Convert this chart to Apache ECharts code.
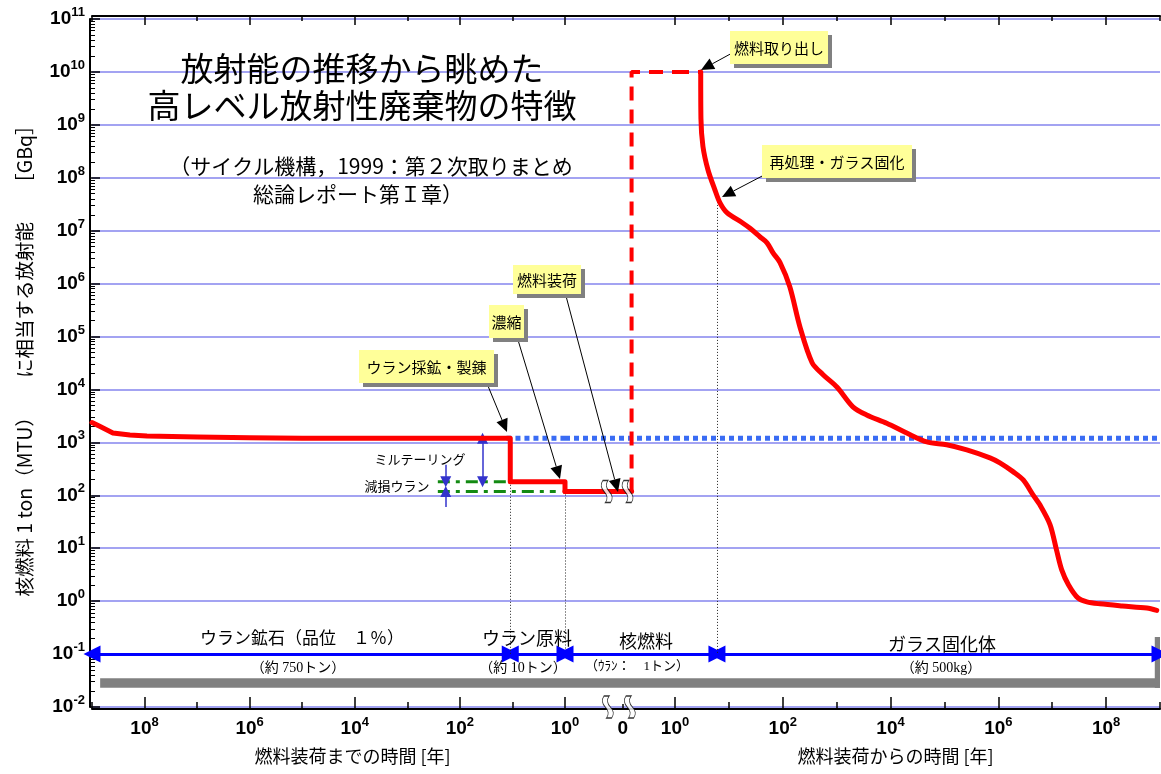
<!DOCTYPE html>
<html><head><meta charset="utf-8">
<script src="https://cdn.jsdelivr.net/npm/echarts@6/dist/echarts.min.js"></script>
<style>html,body{margin:0;padding:0;background:#fff}#c{width:1161px;height:774px}</style>
</head><body><div id="c"></div>
<script>
// ===== DATA =====
// Left panel: years before fuel loading (ore -> refining -> enrichment)
const beforeYears    = [1e9, 7e8, 4e8, 1.9e8, 9e7, 1e7, 1e6, 1e5, 11, 11, 1, 1];
const beforeActivity = [2370, 1990, 1510, 1380, 1320, 1260, 1220, 1200, 1200, 180, 180, 118];
// Middle panel (time 0 = fuel loading), arbitrary position scale
const middleRange = [-1, 0.9];
const fuelPos = [-1, 0.15];
const fuelActivity = [118, 118];
const irradiationPos = [0.15, 0.15, 0.9];
const irradiationActivity = [118, 1e10, 1e10];
const breakPos = [-0.28, 0.08, -0.26, 0.12];
const breakLevel = [118, 118, 0.01, 0.01];
// Right panel: years after fuel loading
const reactorYears = [1, 3];
const reactorActivity = [1e10, 1e10];
const afterYears = [3, 3.03, 3.3, 4.1, 5.5, 6.8, 9.2, 18, 25, 38, 51, 66, 89, 135, 209, 350, 560, 1020, 2000, 3600, 8500,
  2e4, 4.7e4, 1.1e5, 2.6e5, 7e5, 1.07e6, 1.9e6, 2.9e6, 4.4e6, 5.9e6, 9.1e6, 1.2e7, 1.5e7, 2e7, 3e7, 4.4e7, 7.7e7, 2e8, 5.7e8, 8.7e8];
const afterActivity = [1e10, 1.3e9, 3.9e8, 1.4e8, 5.9e7, 3.4e7, 2.2e7, 1.4e7, 1.1e7, 7.6e6, 5.9e6, 3.8e6, 2.5e6, 8.7e5, 1.5e5, 3.2e4, 1.9e4, 1.1e4, 4.7e3, 3.3e3, 2.3e3,
  1.5e3, 1.02e3, 900, 720, 510, 410, 277, 195, 102, 66, 28, 9.3, 3.9, 2.05, 1.15, 0.97, 0.89, 0.81, 0.74, 0.67];
// Reference level of natural uranium ore (blue dotted)
const oreLevel = 1200;
const oreLevelLeftYears = [13, 1];
const oreLevelRightYears = [1, 1e9];
// Mill tailings / depleted uranium (green dash-dot)
const tailingsYears = [263, 11];
const tailingsLevel = 180;
const depletedYears = [263, 1.5];
const depletedLevel = 118;
// Phase boundaries (years)
const phaseOreStart = 1e9, phaseRefineEnd = 11, phaseLoad = 1, phaseReprocess = 6, phaseEnd = 1e9;
const phaseArrowLevel = 0.1;
const millArrowYears = 37, lossArrowYears = 186;
const lossArrowFrom = [376, 60];
const reprocessActivity = 3.5e7;
// Axis ticks
const yMin = 0.01, yMax = 1e11;
const xMajorTicks = [1, 1e2, 1e4, 1e6, 1e8];
const xMinorTicks = [10, 1e3, 1e5, 1e7, 1e9];
const yMinorTicks = [];
for (let e = -2; e < 11; e++) for (let k = 2; k <= 9; k++) yMinorTicks.push(k * Math.pow(10, e));
const middleTicks = [0];
// Shadow band
const bandLow = 0.023, bandHigh = 0.035, bandCornerTop = 0.21, bandLeftYears = 7e8, bandRightStart = 8e8;

// ===== CHART =====
const chart = echarts.init(document.getElementById('c'));
const FJP = '"Noto Sans CJK JP", "Noto Sans CJK SC", sans-serif';
const FNUM = 'Arial, "Liberation Sans", sans-serif';
const BLACK = '#000';
const RED = '#ff0000';
const zip = (a, b) => a.map((v, i) => [v, b[i]]);

const tickRich = {
  b: {fontSize: 19, fontWeight: 'bold', fontFamily: FNUM, color: BLACK, lineHeight: 26},
  s: {fontSize: 13, fontWeight: 'bold', fontFamily: FNUM, color: BLACK, lineHeight: 13, verticalAlign: 'top'}
};
const powLabel = v => '{b|10}{s|' + Math.round(Math.log10(v)) + '}';

function logX(grid, inverse, opts) {
  return Object.assign({
    type: 'log', gridIndex: grid, min: 1, max: 1e9, inverse: inverse,
    axisLine: {show: false, onZero: false}, axisTick: {show: false}, axisLabel: {show: false}, splitLine: {show: false}
  }, opts);
}
const lineBlack = {show: true, onZero: false, lineStyle: {color: BLACK, width: 2}};
const tickStyle = {color: BLACK, width: 1.5};

function xSet(grid, inverse, name, pad) {
  return [
    logX(grid, inverse, {position: 'bottom', offset: 2, axisLine: lineBlack,
      axisTick: {show: true, inside: true, length: 12, customValues: xMajorTicks, lineStyle: tickStyle},
      axisLabel: {show: true, customValues: xMajorTicks, formatter: powLabel, rich: tickRich, margin: 7},
      name: name, nameLocation: 'middle', nameGap: 38,
      nameTextStyle: {fontSize: 18, color: BLACK, fontFamily: FJP, padding: pad}}),
    logX(grid, inverse, {position: 'bottom', offset: 2,
      axisTick: {show: true, inside: true, length: 7, customValues: xMinorTicks, lineStyle: tickStyle}}),
    logX(grid, inverse, {position: 'top', offset: 3, axisLine: lineBlack,
      axisTick: {show: true, inside: true, length: 9, customValues: xMajorTicks, lineStyle: tickStyle}}),
    logX(grid, inverse, {position: 'top', offset: 3,
      axisTick: {show: true, inside: true, length: 5, customValues: xMinorTicks, lineStyle: tickStyle}})
  ];
}
const xAxes = [].concat(
  xSet(0, true, '燃料装荷までの時間 [年]', [0, 0, 0, 48]),
  [
    {type: 'value', gridIndex: 1, min: middleRange[0], max: middleRange[1], position: 'bottom', offset: 2,
      axisLine: lineBlack, splitLine: {show: false},
      axisTick: {show: true, inside: true, length: 5, customValues: middleTicks, lineStyle: tickStyle},
      axisLabel: {show: true, customValues: middleTicks, formatter: () => '{b|0}', rich: tickRich, margin: 7}},
    {type: 'value', gridIndex: 1, min: middleRange[0], max: middleRange[1], position: 'top', offset: 3,
      axisLine: lineBlack, splitLine: {show: false}, axisTick: {show: false}, axisLabel: {show: false}}
  ],
  xSet(2, false, '燃料装荷からの時間 [年]', [0, 44, 0, 0])
);
const gridLine = {show: true, lineStyle: {color: '#a3a3f2', width: 2}};
function logY(grid, opts) {
  return Object.assign({type: 'log', gridIndex: grid, min: yMin, max: yMax, interval: 1,
    axisLine: {show: false}, axisTick: {show: false}, axisLabel: {show: false}, splitLine: gridLine}, opts);
}
const yAxes = [
  logY(0, {position: 'left', offset: 2, axisLine: {show: true, lineStyle: {color: BLACK, width: 2}},
    axisTick: {show: true, inside: true, length: 10, lineStyle: tickStyle},
    axisLabel: {show: true, formatter: powLabel, rich: tickRich, margin: 5},
    name: '核燃料 1 ton（MTU）　　に相当する放射能　　［GBq］', nameLocation: 'middle', nameRotate: 90, nameGap: 56,
    nameTextStyle: {fontSize: 19.5, color: BLACK, fontFamily: FJP, padding: [0, 0, 0, 14]}}),
  logY(1, {}),
  logY(2, {}),
  logY(0, {position: 'left', offset: 2, splitLine: {show: false},
    axisTick: {show: true, inside: true, length: 5, customValues: yMinorTicks, lineStyle: {color: BLACK, width: 1}}})
];

const L = {xAxisIndex: 0, yAxisIndex: 0};
const M = {xAxisIndex: 4, yAxisIndex: 1};
const R = {xAxisIndex: 6, yAxisIndex: 2};
const base = {type: 'line', symbol: 'none', silent: true, animation: false};
const redSolid = {color: RED, width: 5, cap: 'round', join: 'round'};
const redDash = {color: RED, width: 4, type: [14, 9]};
const blueDot = {color: '#3a6cf4', width: 5, type: [5, 4]};
const greenDash = {color: '#138a13', width: 3, type: [12, 6, 4, 6]};

const phaseArrow = (a, b, sa, sb) => [
  {coord: a, symbol: sa, symbolSize: 17, lineStyle: {color: '#0000ff', width: 3, type: 'solid'}, itemStyle: {color: '#0000ff'}},
  {coord: b, symbol: sb, symbolSize: 17}
];
const dotted = (a, b) => [
  {coord: a, symbol: 'none', lineStyle: {color: '#222', width: 1, type: [1, 2]}},
  {coord: b, symbol: 'none'}
];
const purpleArrow = (a, b, sa, sb) => [
  {coord: a, symbol: sa, symbolSize: 11, lineStyle: {color: '#3333cc', width: 1.5, type: 'solid'}, itemStyle: {color: '#3333cc'}},
  {coord: b, symbol: sb, symbolSize: 11}
];
const mlBase = {silent: true, animation: false, symbolSize: 14, label: {show: false}, emphasis: {disabled: true}};
const maBase = {silent: true, animation: false, itemStyle: {color: '#808080'}, label: {show: false}, emphasis: {disabled: true}};

const series = [
  Object.assign({}, base, L, {data: zip(beforeYears, beforeActivity), lineStyle: redSolid, z: 6,
    markLine: Object.assign({}, mlBase, {data: [
      phaseArrow([phaseOreStart, phaseArrowLevel], [phaseRefineEnd, phaseArrowLevel], 'triangle', 'triangle'),
      phaseArrow([phaseRefineEnd, phaseArrowLevel], [phaseLoad, phaseArrowLevel], 'triangle', 'triangle'),
      dotted([phaseRefineEnd, tailingsLevel], [phaseRefineEnd, phaseArrowLevel]),
      dotted([phaseLoad, depletedLevel], [phaseLoad, phaseArrowLevel]),
      purpleArrow([millArrowYears, oreLevel], [millArrowYears, tailingsLevel], 'triangle', 'triangle'),
      purpleArrow([lossArrowYears, lossArrowFrom[0]], [lossArrowYears, tailingsLevel], 'none', 'triangle'),
      purpleArrow([lossArrowYears, lossArrowFrom[1]], [lossArrowYears, depletedLevel], 'none', 'triangle')
    ]}),
    markArea: Object.assign({}, maBase, {data: [[{coord: [bandLeftYears, bandLow]}, {coord: [phaseLoad, bandHigh]}]]})
  }),
  Object.assign({}, base, L, {data: oreLevelLeftYears.map(t => [t, oreLevel]), lineStyle: blueDot, z: 4}),
  Object.assign({}, base, L, {data: tailingsYears.map(t => [t, tailingsLevel]), lineStyle: greenDash, z: 3}),
  Object.assign({}, base, L, {data: depletedYears.map(t => [t, depletedLevel]), lineStyle: greenDash, z: 3}),

  Object.assign({}, base, M, {data: zip(fuelPos, fuelActivity), lineStyle: redSolid, z: 6}),
  Object.assign({}, base, M, {data: zip(irradiationPos, irradiationActivity), lineStyle: redDash, z: 6}),
  Object.assign({}, base, M, {data: middleRange.map(p => [p, oreLevel]), lineStyle: blueDot, z: 4,
    markLine: Object.assign({}, mlBase, {data: [
      phaseArrow([middleRange[0], phaseArrowLevel], [middleRange[1], phaseArrowLevel], 'triangle', 'none')
    ]}),
    markArea: Object.assign({}, maBase, {data: [[{coord: [middleRange[0], bandLow]}, {coord: [middleRange[1], bandHigh]}]]})
  }),
  {type: 'scatter', xAxisIndex: 4, yAxisIndex: 1, silent: true, animation: false, clip: false, z: 8,
    data: zip(breakPos, breakLevel),
    symbol: 'path://M3 0 Q0 5 4 10 Q8 15 5 20 L9 20 Q12 15 8 10 Q4 5 7 0 Z', symbolSize: [11, 22],
    itemStyle: {color: '#fff', borderColor: '#000', borderWidth: 1}},

  Object.assign({}, base, R, {data: zip(reactorYears, reactorActivity), lineStyle: redDash, z: 6}),
  Object.assign({}, base, R, {data: zip(afterYears, afterActivity), lineStyle: redSolid, z: 6, smooth: 0.3}),
  Object.assign({}, base, R, {data: oreLevelRightYears.map(t => [t, oreLevel]), lineStyle: blueDot, z: 4,
    markLine: Object.assign({}, mlBase, {data: [
      phaseArrow([phaseLoad, phaseArrowLevel], [phaseReprocess, phaseArrowLevel], 'none', 'triangle'),
      phaseArrow([phaseReprocess, phaseArrowLevel], [phaseEnd, phaseArrowLevel], 'triangle', 'triangle'),
      dotted([phaseReprocess, reprocessActivity], [phaseReprocess, phaseArrowLevel])
    ]}),
    markArea: Object.assign({}, maBase, {data: [
      [{coord: [phaseLoad, bandLow]}, {coord: [phaseEnd, bandHigh]}],
      [{coord: [bandRightStart, bandLow]}, {coord: [phaseEnd, bandCornerTop]}]
    ]})
  })
];

// ===== ANNOTATIONS =====
function txt(x, y, text, size, family, align) {
  return {type: 'text', x: x, y: y, z: 102, silent: true,
    style: {text: text, font: 'normal ' + size + 'px ' + (family || FJP), fill: BLACK,
      align: align || 'center', verticalAlign: 'middle', textAlign: align || 'center', textVerticalAlign: 'middle'}};
}
function callout(c) {
  const dx = c.tx - c.fx, dy = c.ty - c.fy, len = Math.hypot(dx, dy), ux = dx / len, uy = dy / len;
  const hl = 13, hw = 6, bx = c.tx - ux * hl, by = c.ty - uy * hl;
  return [
    {type: 'line', z: 99, silent: true, shape: {x1: c.fx, y1: c.fy, x2: bx, y2: by}, style: {stroke: BLACK, lineWidth: 1}},
    {type: 'polygon', z: 99, silent: true, shape: {points: [[c.tx, c.ty], [bx - uy * hw, by + ux * hw], [bx + uy * hw, by - ux * hw]]}, style: {fill: BLACK}},
    {type: 'rect', z: 100, silent: true, shape: {x: c.x + 4, y: c.y + 4, width: c.w, height: c.h}, style: {fill: '#808080'}},
    {type: 'rect', z: 101, silent: true, shape: {x: c.x, y: c.y, width: c.w, height: c.h}, style: {fill: '#ffff99'}},
    txt(c.x + c.w / 2, c.y + c.h / 2 + 1, c.text, 15)
  ];
}
const callouts = [
  {x: 730, y: 31, w: 98, h: 33, text: '燃料取り出し', fx: 734, fy: 52, tx: 701, ty: 70},
  {x: 762, y: 145, w: 150, h: 33, text: '再処理・ガラス固化', fx: 766, fy: 174, tx: 722, ty: 197},
  {x: 513, y: 265, w: 68, h: 29, text: '燃料装荷', fx: 566, fy: 296, tx: 618, ty: 492},
  {x: 489, y: 305, w: 35, h: 33, text: '濃縮', fx: 518, fy: 340, tx: 560, ty: 479},
  {x: 359, y: 350, w: 135, h: 33, text: 'ウラン採鉱・製錬', fx: 488, fy: 386, tx: 507, ty: 432}
];
const SERIF = '"Liberation Serif", "Noto Sans CJK JP", serif';
let graphics = [
  txt(362, 68, '放射能の推移から眺めた', 33),
  txt(362, 105, '高レベル放射性廃棄物の特徴', 33),
  txt(371, 166, '（サイクル機構，1999：第２次取りまとめ', 21),
  txt(358, 194, '総論レポート第Ｉ章）', 21),
  txt(420, 459, 'ミルテーリング', 13),
  txt(397, 486, '減損ウラン', 13),
  txt(302, 638, 'ウラン鉱石（品位　１％）', 17),
  txt(298, 668, '（約 750トン）', 14, SERIF),
  txt(527, 638, 'ウラン原料', 18),
  txt(523, 668, '（約 10トン）', 14, SERIF),
  txt(646, 641, '核燃料', 18),
  txt(637, 667, '（ｳﾗﾝ：　1トン）', 13, SERIF),
  txt(942, 644, 'ガラス固化体', 18),
  txt(941, 668, '（約 500kg）', 14, SERIF)
];
callouts.forEach(c => { graphics = graphics.concat(callout(c)); });

chart.setOption({
  animation: false,
  backgroundColor: '#fff',
  grid: [
    {left: 92, top: 19, width: 473, height: 688, outerBoundsMode: 'none', containLabel: false},
    {left: 565, top: 19, width: 110, height: 688, outerBoundsMode: 'none', containLabel: false},
    {left: 675, top: 19, width: 485, height: 688, outerBoundsMode: 'none', containLabel: false}
  ],
  xAxis: xAxes,
  yAxis: yAxes,
  series: series,
  graphic: {elements: graphics}
});
</script></body></html>
